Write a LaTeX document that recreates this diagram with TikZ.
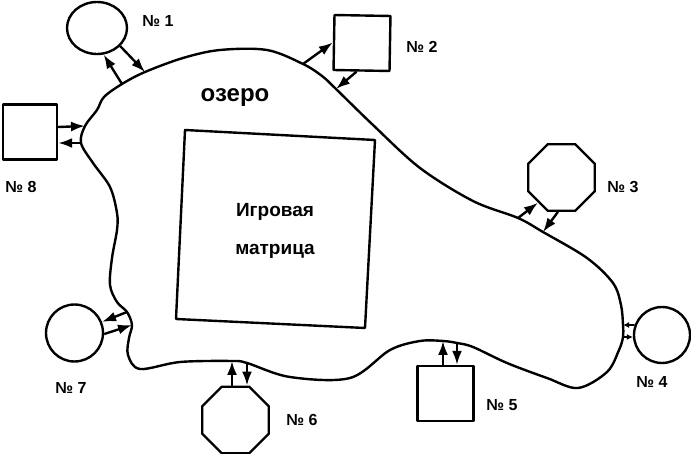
\documentclass[tikz,border=0pt]{standalone}
\usepackage{fontspec}
\setmainfont{Liberation Sans}
\usetikzlibrary{shapes.geometric,arrows.meta}
\tikzset{
  ln/.style={line width=2.4pt, line join=round},
  arr/.style={ln, -{Latex[length=14pt,width=10pt]}},
  tinyarr/.style={line width=1.6pt, -{Latex[length=6pt,width=6pt]}},
  roundobj/.style={ln, draw, circle, minimum size=56pt, inner sep=0pt},
  squareobj/.style={ln, draw, rectangle, minimum width=56pt, minimum height=55pt, inner sep=0pt},
  octobj/.style={ln, draw, regular polygon, regular polygon sides=8, minimum size=72pt, inner sep=0pt},
  numlbl/.style={anchor=base, font=\bfseries\fontsize{16}{18}\selectfont},
  txt/.style={anchor=base, font=\bfseries\fontsize{19}{22}\selectfont},
}
\begin{document}
\begin{tikzpicture}[x=1pt,y=-1pt]
\useasboundingbox (0,0) rectangle (691,454);

% lake contact points
\coordinate (c8b) at (81,143);
\coordinate (c8a) at (85,126);
\coordinate (c1a) at (122,84);
\coordinate (c1b) at (145,72);
\coordinate (c2a) at (303,64);
\coordinate (c2b) at (336,89);
\coordinate (c3a) at (518,218);
\coordinate (c3b) at (543,232);
\coordinate (c4a) at (623,325);
\coordinate (c4b) at (623,337);
\coordinate (c5b) at (457,343);
\coordinate (c5a) at (443,341);
\coordinate (c6b) at (247,363);
\coordinate (c6a) at (232,361);
\coordinate (c7b) at (132,325);
\coordinate (c7a) at (127,312);

% lake
\draw[ln] plot[smooth cycle, tension=0.55] coordinates {
 (c8b) (c8a) (97,110) (104,97) (c1a) (c1b) (183,58) (220,50) (267,50)
 (c2a) (322,76) (c2b) (373,125) (420,168) (473,201) (c3a) (c3b)
 (587,258) (613,283) (621,305) (c4a) (c4b) (619,350) (607,372) (578,388)
 (547,378) (507,363) (473,347) (c5b) (c5a) (420,341) (390,350) (350,378)
 (290,377) (c6b) (c6a) (180,362) (140,369) (128,355) (129,338) (c7b) (c7a)
 (117,302) (110,285) (112,258) (117,230) (117,213) (110,187) (93,163)
};

% game matrix
\draw[ln] (185,130) -- (375,140) -- (365,328) -- (176,319) -- cycle;
\node[txt] (m1) at (275,217) {Игровая};
\node[txt] (m2) at (275,255) {матрица};
\node[anchor=base, font=\bfseries\fontsize{24}{28}\selectfont] (lake) at (235,102) {озеро};

% objects
\node[roundobj, ellipse, minimum width=60pt, minimum height=52pt] (o1) at (97,28) {};
\node[squareobj, rotate=-1] (o2) at (362,43) {};
\node[octobj] (o3) at (561.5,177.5) {};
\node[roundobj] (o4) at (662,335) {};
\node[squareobj] (o5) at (445.5,393.5) {};
\node[octobj] (o6) at (235.5,420) {};
\node[roundobj, minimum size=57pt] (o7) at (74.5,333) {};
\node[squareobj, minimum width=54pt] (o8) at (30,132) {};

% labels
\node[numlbl] (l1) at (158,27) {№ 1};
\node[numlbl] (l2) at (422,53) {№ 2};
\node[numlbl] (l3) at (623,193) {№ 3};
\node[numlbl] (l4) at (652,388) {№ 4};
\node[numlbl] (l5) at (502,410) {№ 5};
\node[numlbl] (l6) at (302,425) {№ 6};
\node[numlbl] (l7) at (71,393) {№ 7};
\node[numlbl] (l8) at (21,193) {№ 8};

% arrows
\draw[arr] (c1a) -- (o1.-76);
\draw[arr] (o1.-38) -- (c1b);
\draw[arr] (c2a) -- (o2.west);
\draw[arr] ([xshift=-5pt]o2.south) -- (c2b);
\draw[arr] (c3a) -- (o3.-133);
\draw[arr] (o3.-96) -- (c3b);
\draw[tinyarr] (o4.160) -- (c4a);
\draw[tinyarr] (c4b) -- (o4.-176);
\draw[arr] ([xshift=-2.5pt]o5.north) -- (c5a);
\draw[arr] (c5b) -- ([xshift=11.5pt]o5.north);
\draw[arr] ([xshift=-3.5pt]o6.north) -- (c6a);
\draw[arr] (c6b) -- ([xshift=11.5pt]o6.north);
\draw[arr] (c7a) -- (o7.22);
\draw[arr] (o7.-2) -- (c7b);
\draw[arr] ([yshift=5pt]o8.east) -- (c8a);
\draw[arr] (c8b) -- ([yshift=-11pt]o8.east);
\end{tikzpicture}
\end{document}
